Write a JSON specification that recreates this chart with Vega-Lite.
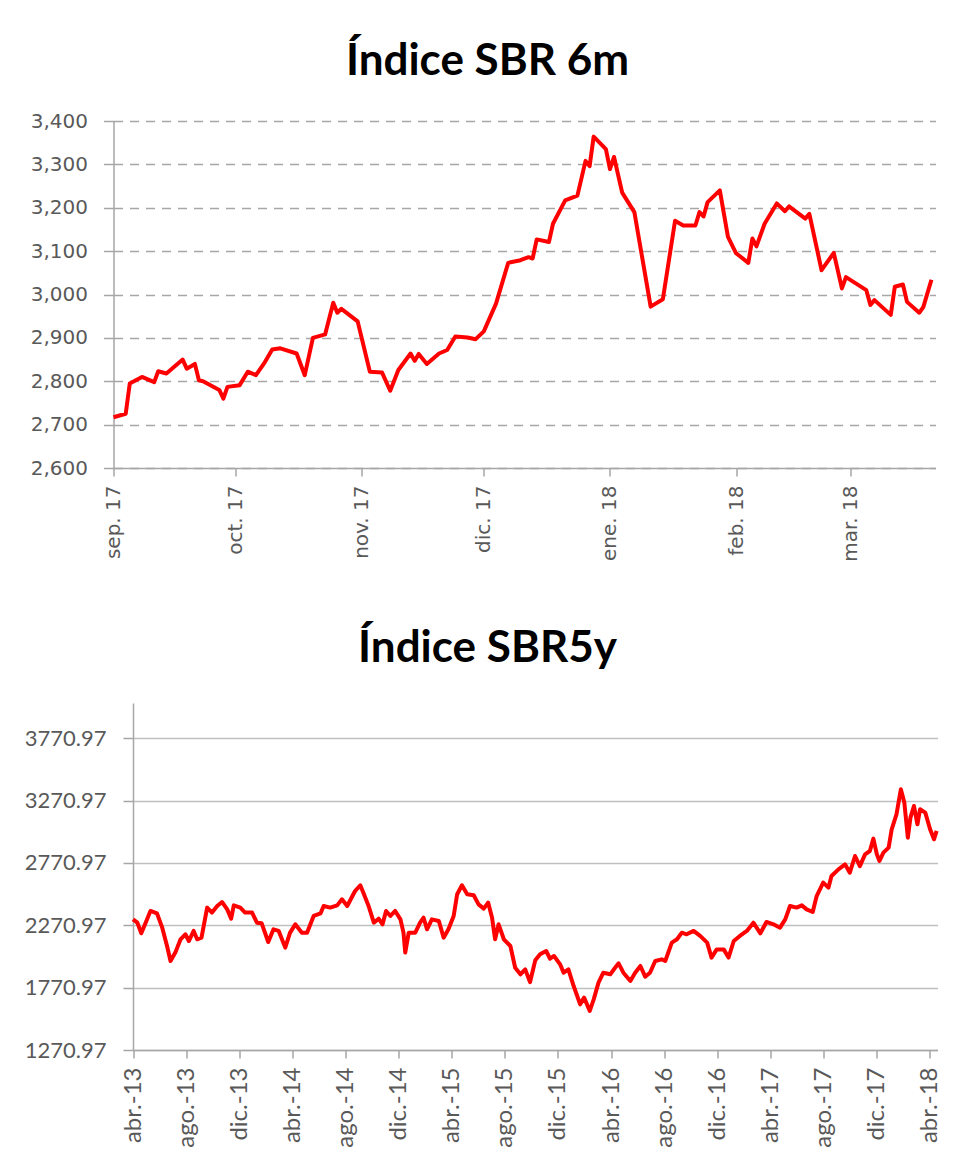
{
  "$schema": "https://vega.github.io/schema/vega-lite/v6.json",
  "background": "white",
  "padding": {"left": 23.5, "top": 40, "right": 10, "bottom": 5},
  "spacing": 65,
  "config": {
    "view": {"stroke": null},
    "title": {"font": "Lato", "fontWeight": "bold", "fontSize": 44, "color": "#000000", "anchor": "middle"},
    "axis": {"labelColor": "#595959", "domainColor": "#A6A6A6", "tickColor": "#A6A6A6", "domainWidth": 1.5, "tickWidth": 1.5, "title": null}
  },
  "vconcat": [
    {
      "title": {"text": "Índice SBR 6m", "offset": 27, "dx": -37},
      "width": 822,
      "height": 347,
      "data": {"values": [
        {"date": "2017-09-01", "value": 2717},
        {"date": "2017-09-04", "value": 2725},
        {"date": "2017-09-05", "value": 2795},
        {"date": "2017-09-08", "value": 2810},
        {"date": "2017-09-11", "value": 2798},
        {"date": "2017-09-12", "value": 2823},
        {"date": "2017-09-14", "value": 2818},
        {"date": "2017-09-18", "value": 2850},
        {"date": "2017-09-19", "value": 2829},
        {"date": "2017-09-21", "value": 2840},
        {"date": "2017-09-22", "value": 2802},
        {"date": "2017-09-23", "value": 2800},
        {"date": "2017-09-27", "value": 2780},
        {"date": "2017-09-28", "value": 2760},
        {"date": "2017-09-29", "value": 2787},
        {"date": "2017-10-02", "value": 2791},
        {"date": "2017-10-04", "value": 2822},
        {"date": "2017-10-06", "value": 2814},
        {"date": "2017-10-08", "value": 2841},
        {"date": "2017-10-10", "value": 2873},
        {"date": "2017-10-12", "value": 2876},
        {"date": "2017-10-16", "value": 2864},
        {"date": "2017-10-18", "value": 2814},
        {"date": "2017-10-20", "value": 2900},
        {"date": "2017-10-23", "value": 2908},
        {"date": "2017-10-25", "value": 2981},
        {"date": "2017-10-26", "value": 2958},
        {"date": "2017-10-27", "value": 2967},
        {"date": "2017-10-31", "value": 2938},
        {"date": "2017-11-03", "value": 2822},
        {"date": "2017-11-06", "value": 2820},
        {"date": "2017-11-08", "value": 2778},
        {"date": "2017-11-10", "value": 2826},
        {"date": "2017-11-13", "value": 2864},
        {"date": "2017-11-14", "value": 2847},
        {"date": "2017-11-15", "value": 2863},
        {"date": "2017-11-17", "value": 2840},
        {"date": "2017-11-20", "value": 2864},
        {"date": "2017-11-22", "value": 2872},
        {"date": "2017-11-24", "value": 2903},
        {"date": "2017-11-27", "value": 2901},
        {"date": "2017-11-29", "value": 2897},
        {"date": "2017-12-01", "value": 2915},
        {"date": "2017-12-04", "value": 2979},
        {"date": "2017-12-07", "value": 3073},
        {"date": "2017-12-10", "value": 3079},
        {"date": "2017-12-12", "value": 3086},
        {"date": "2017-12-13", "value": 3083},
        {"date": "2017-12-14", "value": 3127},
        {"date": "2017-12-17", "value": 3121},
        {"date": "2017-12-18", "value": 3163},
        {"date": "2017-12-21", "value": 3217},
        {"date": "2017-12-24", "value": 3228},
        {"date": "2017-12-26", "value": 3308},
        {"date": "2017-12-27", "value": 3296},
        {"date": "2017-12-28", "value": 3364},
        {"date": "2017-12-31", "value": 3335},
        {"date": "2018-01-01", "value": 3289},
        {"date": "2018-01-02", "value": 3317},
        {"date": "2018-01-04", "value": 3235},
        {"date": "2018-01-07", "value": 3190},
        {"date": "2018-01-11", "value": 2972},
        {"date": "2018-01-14", "value": 2989},
        {"date": "2018-01-17", "value": 3170},
        {"date": "2018-01-19", "value": 3159},
        {"date": "2018-01-22", "value": 3159},
        {"date": "2018-01-23", "value": 3190},
        {"date": "2018-01-24", "value": 3180},
        {"date": "2018-01-25", "value": 3213},
        {"date": "2018-01-28", "value": 3240},
        {"date": "2018-01-30", "value": 3133},
        {"date": "2018-02-01", "value": 3095},
        {"date": "2018-02-04", "value": 3073},
        {"date": "2018-02-05", "value": 3129},
        {"date": "2018-02-06", "value": 3111},
        {"date": "2018-02-08", "value": 3163},
        {"date": "2018-02-11", "value": 3210},
        {"date": "2018-02-13", "value": 3192},
        {"date": "2018-02-14", "value": 3203},
        {"date": "2018-02-18", "value": 3175},
        {"date": "2018-02-19", "value": 3186},
        {"date": "2018-02-22", "value": 3056},
        {"date": "2018-02-25", "value": 3096},
        {"date": "2018-02-27", "value": 3014},
        {"date": "2018-02-28", "value": 3040},
        {"date": "2018-03-05", "value": 3010},
        {"date": "2018-03-06", "value": 2976},
        {"date": "2018-03-07", "value": 2987},
        {"date": "2018-03-11", "value": 2953},
        {"date": "2018-03-12", "value": 3018},
        {"date": "2018-03-14", "value": 3023},
        {"date": "2018-03-15", "value": 2983},
        {"date": "2018-03-18", "value": 2958},
        {"date": "2018-03-19", "value": 2971},
        {"date": "2018-03-21", "value": 3034}
      ]},
      "mark": {"type": "line", "color": "#FF0000", "strokeWidth": 4, "strokeJoin": "round"},
      "encoding": {
        "x": {
          "field": "date", "type": "temporal",
          "scale": {"type": "utc", "domain": [{"year": 2017, "month": 9, "date": 1, "utc": true}, {"year": 2018, "month": 3, "date": 22, "utc": true}]},
          "axis": {
            "values": [
              {"year": 2017, "month": 9, "date": 1, "utc": true},
              {"year": 2017, "month": 10, "date": 1, "utc": true},
              {"year": 2017, "month": 11, "date": 1, "utc": true},
              {"year": 2017, "month": 12, "date": 1, "utc": true},
              {"year": 2018, "month": 1, "date": 1, "utc": true},
              {"year": 2018, "month": 2, "date": 1, "utc": true},
              {"year": 2018, "month": 3, "date": 1, "utc": true}
            ],
            "labelExpr": "['ene','feb','mar','abr','may','jun','jul','ago','sep','oct','nov','dic'][utcmonth(datum.value)] + '. ' + utcFormat(datum.value, '%y')",
            "labelAngle": 270,
            "labelFont": "DejaVu Sans",
            "labelFontSize": 20,
            "labelPadding": 9,
            "tickSize": 8,
            "grid": false
          }
        },
        "y": {
          "field": "value", "type": "quantitative",
          "scale": {"domain": [2600, 3400], "nice": false, "zero": false},
          "axis": {
            "values": [2600, 2700, 2800, 2900, 3000, 3100, 3200, 3300, 3400],
            "format": ",.0f",
            "labelFont": "DejaVu Sans",
            "labelFontSize": 20,
            "labelPadding": 16,
            "tickSize": 10,
            "grid": true,
            "gridDash": [9, 7],
            "gridColor": "#A6A6A6",
            "gridWidth": 1.5
          }
        }
      }
    },
    {
      "title": {"text": "Índice SBR5y", "offset": 32, "dx": -38},
      "width": 824,
      "height": 347,
      "data": {"values": [
        {"date": "2013-04-01", "value": 2319},
        {"date": "2013-04-11", "value": 2292},
        {"date": "2013-04-20", "value": 2207},
        {"date": "2013-04-30", "value": 2292},
        {"date": "2013-05-11", "value": 2386},
        {"date": "2013-05-26", "value": 2367},
        {"date": "2013-06-07", "value": 2252},
        {"date": "2013-06-18", "value": 2105},
        {"date": "2013-06-26", "value": 1985},
        {"date": "2013-07-07", "value": 2052},
        {"date": "2013-07-19", "value": 2159},
        {"date": "2013-07-30", "value": 2199},
        {"date": "2013-08-07", "value": 2145},
        {"date": "2013-08-18", "value": 2226},
        {"date": "2013-08-26", "value": 2159},
        {"date": "2013-09-05", "value": 2172},
        {"date": "2013-09-18", "value": 2413},
        {"date": "2013-09-29", "value": 2373},
        {"date": "2013-10-11", "value": 2426},
        {"date": "2013-10-22", "value": 2458},
        {"date": "2013-11-03", "value": 2399},
        {"date": "2013-11-12", "value": 2324},
        {"date": "2013-11-18", "value": 2431},
        {"date": "2013-12-03", "value": 2413},
        {"date": "2013-12-14", "value": 2373},
        {"date": "2013-12-30", "value": 2373},
        {"date": "2014-01-10", "value": 2292},
        {"date": "2014-01-21", "value": 2287},
        {"date": "2014-02-05", "value": 2137},
        {"date": "2014-02-17", "value": 2239},
        {"date": "2014-03-01", "value": 2226},
        {"date": "2014-03-16", "value": 2092},
        {"date": "2014-03-27", "value": 2212},
        {"date": "2014-04-08", "value": 2279},
        {"date": "2014-04-23", "value": 2212},
        {"date": "2014-05-05", "value": 2212},
        {"date": "2014-05-20", "value": 2346},
        {"date": "2014-06-05", "value": 2367},
        {"date": "2014-06-12", "value": 2426},
        {"date": "2014-06-27", "value": 2413},
        {"date": "2014-07-13", "value": 2431},
        {"date": "2014-07-24", "value": 2480},
        {"date": "2014-08-05", "value": 2426},
        {"date": "2014-08-23", "value": 2546},
        {"date": "2014-09-04", "value": 2592},
        {"date": "2014-09-11", "value": 2533},
        {"date": "2014-09-23", "value": 2426},
        {"date": "2014-10-05", "value": 2292},
        {"date": "2014-10-16", "value": 2324},
        {"date": "2014-10-25", "value": 2279},
        {"date": "2014-11-02", "value": 2386},
        {"date": "2014-11-12", "value": 2346},
        {"date": "2014-11-23", "value": 2386},
        {"date": "2014-12-05", "value": 2319},
        {"date": "2014-12-12", "value": 2212},
        {"date": "2014-12-16", "value": 2052},
        {"date": "2014-12-24", "value": 2212},
        {"date": "2015-01-08", "value": 2212},
        {"date": "2015-01-19", "value": 2292},
        {"date": "2015-01-27", "value": 2332},
        {"date": "2015-02-04", "value": 2239},
        {"date": "2015-02-15", "value": 2319},
        {"date": "2015-03-03", "value": 2306},
        {"date": "2015-03-14", "value": 2172},
        {"date": "2015-03-25", "value": 2239},
        {"date": "2015-04-06", "value": 2346},
        {"date": "2015-04-14", "value": 2520},
        {"date": "2015-04-25", "value": 2592},
        {"date": "2015-05-07", "value": 2520},
        {"date": "2015-05-22", "value": 2512},
        {"date": "2015-06-02", "value": 2439},
        {"date": "2015-06-14", "value": 2405},
        {"date": "2015-06-24", "value": 2453},
        {"date": "2015-07-03", "value": 2332},
        {"date": "2015-07-10", "value": 2159},
        {"date": "2015-07-18", "value": 2279},
        {"date": "2015-07-30", "value": 2159},
        {"date": "2015-08-14", "value": 2105},
        {"date": "2015-08-25", "value": 1931},
        {"date": "2015-09-06", "value": 1878},
        {"date": "2015-09-17", "value": 1918},
        {"date": "2015-09-28", "value": 1815},
        {"date": "2015-10-10", "value": 1990},
        {"date": "2015-10-21", "value": 2038},
        {"date": "2015-11-04", "value": 2065},
        {"date": "2015-11-13", "value": 2003},
        {"date": "2015-11-22", "value": 2025},
        {"date": "2015-12-06", "value": 1958},
        {"date": "2015-12-14", "value": 1891},
        {"date": "2015-12-25", "value": 1918},
        {"date": "2016-01-06", "value": 1784},
        {"date": "2016-01-21", "value": 1637},
        {"date": "2016-01-30", "value": 1691},
        {"date": "2016-02-12", "value": 1584},
        {"date": "2016-02-21", "value": 1677},
        {"date": "2016-03-03", "value": 1811},
        {"date": "2016-03-14", "value": 1891},
        {"date": "2016-03-30", "value": 1878},
        {"date": "2016-04-10", "value": 1931},
        {"date": "2016-04-18", "value": 1966},
        {"date": "2016-04-29", "value": 1891},
        {"date": "2016-05-15", "value": 1825},
        {"date": "2016-05-26", "value": 1891},
        {"date": "2016-06-07", "value": 1945},
        {"date": "2016-06-18", "value": 1859},
        {"date": "2016-06-29", "value": 1891},
        {"date": "2016-07-11", "value": 1985},
        {"date": "2016-07-26", "value": 1998},
        {"date": "2016-08-03", "value": 1985},
        {"date": "2016-08-18", "value": 2132},
        {"date": "2016-08-30", "value": 2159},
        {"date": "2016-09-10", "value": 2212},
        {"date": "2016-09-21", "value": 2199},
        {"date": "2016-10-07", "value": 2226},
        {"date": "2016-10-22", "value": 2186},
        {"date": "2016-11-07", "value": 2132},
        {"date": "2016-11-17", "value": 2012},
        {"date": "2016-11-29", "value": 2078},
        {"date": "2016-12-15", "value": 2078},
        {"date": "2016-12-26", "value": 2012},
        {"date": "2017-01-07", "value": 2145},
        {"date": "2017-01-21", "value": 2186},
        {"date": "2017-02-06", "value": 2226},
        {"date": "2017-02-21", "value": 2292},
        {"date": "2017-03-09", "value": 2207},
        {"date": "2017-03-23", "value": 2298},
        {"date": "2017-04-08", "value": 2279},
        {"date": "2017-04-23", "value": 2252},
        {"date": "2017-05-05", "value": 2319},
        {"date": "2017-05-16", "value": 2426},
        {"date": "2017-05-31", "value": 2413},
        {"date": "2017-06-12", "value": 2431},
        {"date": "2017-06-23", "value": 2399},
        {"date": "2017-07-07", "value": 2378},
        {"date": "2017-07-16", "value": 2506},
        {"date": "2017-07-31", "value": 2613},
        {"date": "2017-08-12", "value": 2573},
        {"date": "2017-08-19", "value": 2666},
        {"date": "2017-09-04", "value": 2720},
        {"date": "2017-09-19", "value": 2760},
        {"date": "2017-09-30", "value": 2693},
        {"date": "2017-10-12", "value": 2827},
        {"date": "2017-10-23", "value": 2746},
        {"date": "2017-11-04", "value": 2840},
        {"date": "2017-11-15", "value": 2867},
        {"date": "2017-11-23", "value": 2966},
        {"date": "2017-12-01", "value": 2840},
        {"date": "2017-12-07", "value": 2787},
        {"date": "2017-12-16", "value": 2854},
        {"date": "2017-12-28", "value": 2894},
        {"date": "2018-01-04", "value": 3041},
        {"date": "2018-01-15", "value": 3161},
        {"date": "2018-01-25", "value": 3362},
        {"date": "2018-02-02", "value": 3255},
        {"date": "2018-02-10", "value": 2974},
        {"date": "2018-02-16", "value": 3135},
        {"date": "2018-02-24", "value": 3228},
        {"date": "2018-03-04", "value": 3081},
        {"date": "2018-03-10", "value": 3202},
        {"date": "2018-03-22", "value": 3175},
        {"date": "2018-04-02", "value": 3041},
        {"date": "2018-04-11", "value": 2961},
        {"date": "2018-04-17", "value": 3028}
      ]},
      "mark": {"type": "line", "color": "#FF0000", "strokeWidth": 4, "strokeJoin": "round"},
      "encoding": {
        "x": {
          "field": "date", "type": "temporal",
          "scale": {"type": "utc", "range": [19.5, 824], "domain": [{"year": 2013, "month": 4, "date": 1, "utc": true}, {"year": 2018, "month": 4, "date": 19, "utc": true}]},
          "axis": {
            "values": [
              {"year": 2013, "month": 4, "date": 1, "utc": true},
              {"year": 2013, "month": 8, "date": 1, "utc": true},
              {"year": 2013, "month": 12, "date": 1, "utc": true},
              {"year": 2014, "month": 4, "date": 1, "utc": true},
              {"year": 2014, "month": 8, "date": 1, "utc": true},
              {"year": 2014, "month": 12, "date": 1, "utc": true},
              {"year": 2015, "month": 4, "date": 1, "utc": true},
              {"year": 2015, "month": 8, "date": 1, "utc": true},
              {"year": 2015, "month": 12, "date": 1, "utc": true},
              {"year": 2016, "month": 4, "date": 1, "utc": true},
              {"year": 2016, "month": 8, "date": 1, "utc": true},
              {"year": 2016, "month": 12, "date": 1, "utc": true},
              {"year": 2017, "month": 4, "date": 1, "utc": true},
              {"year": 2017, "month": 8, "date": 1, "utc": true},
              {"year": 2017, "month": 12, "date": 1, "utc": true},
              {"year": 2018, "month": 4, "date": 1, "utc": true}
            ],
            "labelExpr": "['ene','feb','mar','abr','may','jun','jul','ago','sep','oct','nov','dic'][utcmonth(datum.value)] + '.-' + utcFormat(datum.value, '%y')",
            "labelAngle": 270,
            "labelFont": "Lato",
            "labelFontSize": 24,
            "labelPadding": 9,
            "tickSize": 8,
            "grid": false
          }
        },
        "y": {
          "field": "value", "type": "quantitative",
          "scale": {"domain": [1270.97, 4054], "nice": false, "zero": false},
          "axis": {
            "values": [1270.97, 1770.97, 2270.97, 2770.97, 3270.97, 3770.97],
            "format": ".2f",
            "offset": -19.5,
            "labelFont": "Lato",
            "labelFontSize": 22,
            "labelPadding": 17,
            "tickSize": 10,
            "grid": true,
            "gridColor": "#BFBFBF",
            "gridWidth": 1.5
          }
        }
      }
    }
  ]
}
